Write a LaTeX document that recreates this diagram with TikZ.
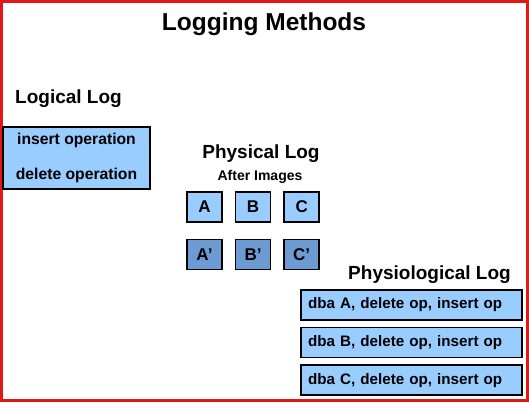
\documentclass[tikz,border=0pt]{standalone}
\usepackage{fontspec}
\setmainfont{Liberation Sans}
\usetikzlibrary{positioning}
\definecolor{claro}{HTML}{99CCFF}
\definecolor{escuro}{HTML}{6B9BD2}
\definecolor{borda}{HTML}{E01818}
\newcommand{\fs}[1]{\bfseries\fontsize{#1}{#1}\selectfont}

\begin{document}
\begin{tikzpicture}[x=1pt, y=-1pt, node distance=12pt and 12pt,
  hd/.style={inner sep=0pt, font=\fs{19}},
  bx/.style={draw=black, line width=1.6pt, fill=claro, inner sep=0pt},
  lt/.style={bx, minimum width=35pt, minimum height=30pt, font=\fs{17}},
  dk/.style={lt, fill=escuro},
  rw/.style={bx, text width=207pt, inner xsep=7pt, minimum height=30pt, align=left, font=\fs{15.2}}]
  \useasboundingbox (0,0) rectangle (529,402);
  \draw[borda, line width=3pt] (1.5,1.5) rectangle (527.5,400.5);
  \node[hd, font=\fs{24.5}] (title) at (264,24) {Logging Methods};
  % logical
  \node[hd, anchor=west] (lg) at (15,99) {Logical Log};
  \node[bx, minimum width=147pt, minimum height=62pt, align=center, font=\fs{15.7}] (ops) at (76.5,158)
    {insert operation\\[19pt]delete operation};
  % physical
  \node[hd] (ph) at (261,153.5) {Physical Log};
  \node[hd, font=\fs{14}] (ai) at (260,177) {After Images};
  \node[lt] (a) at (204.5,207) {A};
  \node[lt, right=of a] (b) {B};
  \node[lt, right=of b] (c) {C};
  \node[dk, below=16pt of a] (a2) {A'};
  \node[dk, below=16pt of b] (b2) {B'};
  \node[dk, below=16pt of c] (c2) {C'};
  % physiological
  \node[hd, anchor=east] (ps) at (511,274.5) {Physiological Log};
  \node[rw] (r1) at (411.5,305) {dba A, delete op, insert op};
  \node[rw, below=6pt of r1] (r2) {dba B, delete op, insert op};
  \node[rw, below=6pt of r2] (r3) {dba C, delete op, insert op};
\end{tikzpicture}
\end{document}
